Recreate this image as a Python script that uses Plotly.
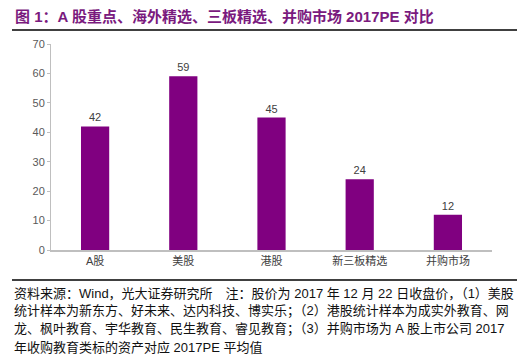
import plotly.graph_objects as go

categories = ["A股", "美股", "港股", "新三板精选", "并购市场"]
pe_values = [42, 59, 45, 24, 12]
y_ticks = [0, 10, 20, 30, 40, 50, 60, 70]

title_text = "图 1：A 股重点、海外精选、三板精选、并购市场 2017PE 对比"
note_lines = [
    "资料来源：Wind，光大证券研究所　注：股价为 2017 年 12 月 22 日收盘价，（1）美股",
    "统计样本为新东方、好未来、达内科技、博实乐；（2）港股统计样本为成实外教育、网",
    "龙、枫叶教育、宇华教育、民生教育、睿见教育；（3）并购市场为 A 股上市公司 2017",
    "年收购教育类标的资产对应 2017PE 平均值",
]

W, H = 527, 360
L, R, T, B = 51, 35, 44, 110
pw, ph = W - L - R, H - T - B


def px_x(x):
    return (x - L) / pw


def px_y(y):
    return (H - B - y) / ph


fig = go.Figure()
fig.add_trace(go.Bar(
    x=categories, y=pe_values,
    marker=dict(color="#800080", line=dict(width=0)),
    text=[str(v) for v in pe_values], textposition="outside",
    textfont=dict(size=11, color="#404040", family="Liberation Sans, Noto Sans CJK SC"),
    cliponaxis=False,
))

sans = "Liberation Sans, Noto Sans CJK SC"
annotations = [dict(
    text="<b>" + title_text + "</b>", xref="paper", yref="paper",
    x=px_x(13), y=px_y(16), xanchor="left", yanchor="middle", showarrow=False,
    font=dict(size=15, color="#7A1A7E", family=sans),
)]
line_y = [293, 311, 329, 347]
for t, yy in zip(note_lines, line_y):
    annotations.append(dict(
        text=t, xref="paper", yref="paper", x=px_x(12), y=px_y(yy),
        xanchor="left", yanchor="middle", showarrow=False,
        font=dict(size=13, color="#111111", family=sans),
    ))

fig.update_layout(
    width=W, height=H,
    margin=dict(l=L, r=R, t=T, b=B, pad=0),
    paper_bgcolor="white", plot_bgcolor="white",
    showlegend=False, bargap=0.68,
    font=dict(family=sans),
    xaxis=dict(
        showline=True, linecolor="#BFBFBF", linewidth=1.5,
        ticks="", tickfont=dict(size=11, color="#404040", family=sans),
        showgrid=False, fixedrange=True, automargin=False,
    ),
    yaxis=dict(
        range=[0, 70], tickvals=y_ticks, showgrid=False, zeroline=False,
        showline=True, linecolor="#BFBFBF", linewidth=1,
        ticks="outside", ticklen=3, tickcolor="#BFBFBF",
        tickfont=dict(size=11, color="#595959", family=sans), fixedrange=True,
        automargin=False,
    ),
    annotations=annotations,
    shapes=[
        dict(type="line", xref="paper", yref="paper", x0=px_x(12), x1=px_x(517),
             y0=px_y(30), y1=px_y(30), line=dict(color="black", width=1.5)),
        dict(type="line", xref="paper", yref="paper", x0=px_x(12), x1=px_x(517),
             y0=px_y(280), y1=px_y(280), line=dict(color="black", width=1.5)),
    ],
)

fig.write_html(
    "out.html",
    config={"displayModeBar": False},
    post_script="document.body.style.margin='0';document.body.style.overflow='hidden';",
)
